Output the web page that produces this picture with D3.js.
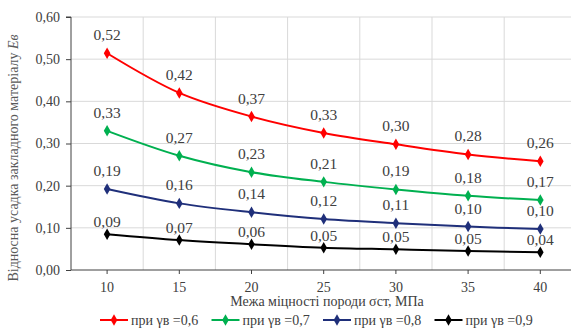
<!DOCTYPE html>
<html><head><meta charset="utf-8">
<script src="https://cdn.jsdelivr.net/npm/d3@7"></script>
<style>
html,body{margin:0;padding:0;background:#fff;}
svg{display:block;}
</style></head>
<body>
<svg id="chart" width="571" height="334"></svg>
<script>
const categories = ["10","15","20","25","30","35","40"];
const seriesNames = ["при  γв =0,6","при  γв =0,7","при  γв =0,8","при  γв =0,9"];
const series06 = [0.514,0.420,0.364,0.325,0.298,0.274,0.258];
const series07 = [0.330,0.271,0.232,0.209,0.191,0.176,0.166];
const series08 = [0.192,0.158,0.137,0.121,0.111,0.103,0.097];
const series09 = [0.085,0.071,0.061,0.053,0.049,0.045,0.042];
const labels06 = ["0,52","0,42","0,37","0,33","0,30","0,28","0,26"];
const labels07 = ["0,33","0,27","0,23","0,21","0,19","0,18","0,17"];
const labels08 = ["0,19","0,16","0,14","0,12","0,11","0,10","0,10"];
const labels09 = ["0,09","0,07","0,06","0,05","0,05","0,05","0,04"];
const yTicks = [0,0.1,0.2,0.3,0.4,0.5,0.6];
const colors = ["#ff0000","#00b050","#1f2f7a","#000000"];
const FONT = "Liberation Serif";

const seriesList = [
  {name:seriesNames[0], values:series06, labels:labels06, color:colors[0], dy:13},
  {name:seriesNames[1], values:series07, labels:labels07, color:colors[1], dy:13},
  {name:seriesNames[2], values:series08, labels:labels08, color:colors[2], dy:13},
  {name:seriesNames[3], values:series09, labels:labels09, color:colors[3], dy:7}
];

const svg = d3.select("#chart").attr("font-family", FONT);
const mLeft = 71, mTop = 17, mBottom = 270, step = 72.2;
const x = d3.scaleBand().domain(categories).range([mLeft, mLeft + step*categories.length]).padding(0);
const y = d3.scaleLinear().domain([0,0.6]).range([mBottom, mTop]);
const cx = c => x(c) + x.bandwidth()/2;
const fmt = v => d3.format(".2f")(v).replace(".", ",");

// horizontal gridlines
svg.append("g").selectAll("line").data(yTicks.filter(t=>t>0)).join("line")
  .attr("x1", mLeft).attr("x2", 571).attr("y1", d=>y(d)).attr("y2", d=>y(d))
  .attr("stroke","#d9d9d9").attr("stroke-width",1);
// vertical gridlines (category boundaries)
svg.append("g").selectAll("line").data(categories.slice(1)).join("line")
  .attr("x1", d=>x(d)).attr("x2", d=>x(d)).attr("y1", mTop).attr("y2", mBottom)
  .attr("stroke","#d9d9d9").attr("stroke-width",1);

// y axis
const yAxis = svg.append("g").attr("transform",`translate(${mLeft},0)`)
  .call(d3.axisLeft(y).tickValues(yTicks).tickFormat(fmt).tickSize(5).tickPadding(6))
  .attr("font-family", FONT);
yAxis.select(".domain").attr("stroke","#404040").attr("d",`M-5,${mTop}H0V${mBottom}`);
yAxis.selectAll(".tick line").attr("stroke","#404040");
yAxis.selectAll("text").attr("font-size",14).attr("fill","#404040").attr("font-family", FONT);

// x axis
const xAxis = svg.append("g").attr("transform",`translate(0,${mBottom})`)
  .call(d3.axisBottom(x).tickSize(4).tickPadding(8))
  .attr("font-family", FONT);
xAxis.select(".domain").attr("stroke","#404040").attr("d",`M${mLeft},0H571`);
xAxis.selectAll(".tick line").attr("stroke","#404040");
xAxis.selectAll("text").attr("font-size",14).attr("fill","#404040").attr("font-family", FONT);

// axis titles
svg.append("text").attr("x",327).attr("y",306).attr("text-anchor","middle").attr("font-family", FONT)
  .attr("font-size",14).attr("fill","#404040").text("Межа міцності породи  σст, МПа");
const yt = svg.append("text").attr("transform","translate(18,158) rotate(-90)").attr("font-family", FONT)
  .attr("text-anchor","middle").attr("font-size",14).attr("fill","#595959");
yt.append("tspan").text("Відносна усадка закладного матеріалу ");
yt.append("tspan").attr("font-style","italic").text("Eв");

// lines
const line = d3.line().x((d,i)=>cx(categories[i])).y(d=>y(d)).curve(d3.curveCatmullRom.alpha(0.5));
const diamond = d3.symbol().type(d3.symbolDiamond).size(38);
seriesList.forEach(s=>{
  svg.append("path").attr("d", line(s.values)).attr("fill","none")
    .attr("stroke", s.color).attr("stroke-width",2);
  svg.append("g").selectAll("path").data(s.values).join("path")
    .attr("d", diamond).attr("fill", s.color)
    .attr("transform",(d,i)=>`translate(${cx(categories[i])},${y(d)})`);
  svg.append("g").selectAll("text").data(s.values).join("text")
    .attr("x",(d,i)=>cx(categories[i])).attr("y", d=>y(d)-s.dy)
    .attr("text-anchor","middle").attr("font-size",15.5).attr("fill","#404040").attr("font-family", FONT)
    .text((d,i)=>s.labels[i]);
});

// legend
const lg = svg.append("g");
seriesList.forEach((s,i)=>{
  const gx = 100 + i*111.5, gy = 320;
  const g = lg.append("g").attr("transform",`translate(${gx},${gy})`);
  g.append("line").attr("x1",0).attr("x2",28).attr("y1",0).attr("y2",0)
    .attr("stroke",s.color).attr("stroke-width",2);
  g.append("path").attr("d",diamond).attr("fill",s.color).attr("transform","translate(14,0)");
  g.append("text").attr("x",31).attr("y",5).attr("font-size",14).attr("fill","#404040").attr("font-family", FONT).text(s.name);
});
</script>
</body></html>
